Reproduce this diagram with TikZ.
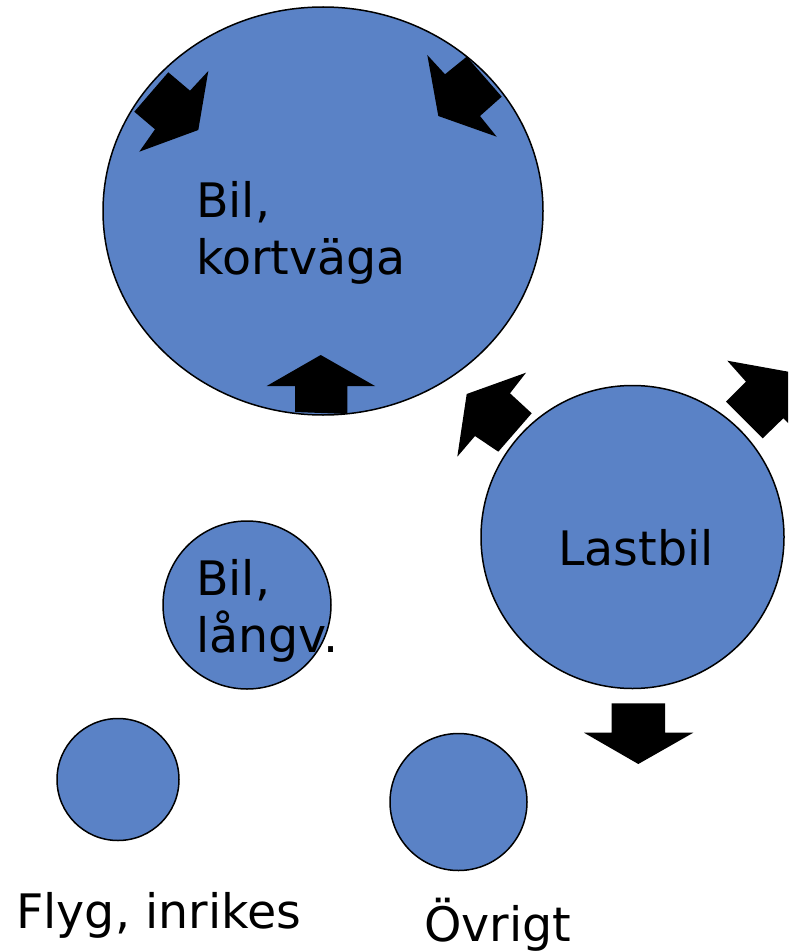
\documentclass[tikz,border=0pt]{standalone}
\usepackage{fontspec}
\setmainfont{DejaVu Sans}
\usetikzlibrary{shapes.geometric}
\definecolor{bubblefill}{RGB}{90,130,198}
\begin{document}
\begin{tikzpicture}[x=1pt,y=-1pt,
  bubble/.style={draw=black, line width=1.5pt, fill=bubblefill, inner sep=0pt},
  lbl/.style={font=\fontsize{47.5pt}{57pt}\selectfont, inner sep=0pt, align=left, anchor=base west},
  blockarrow/.style={fill=black}]
\useasboundingbox (0,0) rectangle (788,952);
\clip (0,0) rectangle (788,952);
% bubbles
\node[bubble, ellipse, minimum width=440pt, minimum height=408pt] (kort) at (323,211) {};
\node[bubble, circle, minimum size=303pt] (last) at (632.5,537) {};
\node[bubble, circle, minimum size=168pt] (langv) at (247,605) {};
\node[bubble, circle, minimum size=122pt] (flyg) at (118,779.5) {};
\node[bubble, circle, minimum size=137pt] (ovr) at (458.5,802) {};
% labels (base anchor of a two-line node is the last line's baseline)
\node[lbl] (kortlbl) at (196,274) {Bil,\\kortväga};
\node[lbl] (lastlbl) at (558,565) {Lastbil};
\node[lbl] (langvlbl) at (196,652) {Bil,\\långv.};
\node[lbl] (flyglbl) at (16,928) {Flyg, inrikes};
\node[lbl] (ovrlbl) at (424,941) {Övrigt};
% block arrows
\fill[blockarrow] (168.3,72.3) -- (190,90.7) -- (208.3,71) -- (198.3,130) -- (139.3,151.7) -- (155,129.3) -- (134.3,111.7) -- cycle;
\fill[blockarrow] (427.3,55) -- (445,74.3) -- (466.7,56.7) -- (501.7,96.7) -- (480,116) -- (496.7,136.7) -- (438.3,116) -- cycle;
\fill[blockarrow] (320.7,355) -- (375,386) -- (347.3,386) -- (347.3,414) -- (295,412) -- (295,386) -- (266.7,386) -- cycle;
\fill[blockarrow] (526,372.7) -- (510,393.3) -- (531.7,413.3) -- (498.3,451.7) -- (475,436) -- (457.3,456.7) -- (466.7,394) -- cycle;
\fill[blockarrow] (727.3,360.7) -- (746,381.7) -- (726,401.7) -- (762.7,438.3) -- (783.3,418.3) -- (803.2,438.1) -- (792.7,372.5) -- cycle;
\fill[blockarrow] (611.7,703.3) -- (665,703.3) -- (665,732.7) -- (693.3,732.7) -- (638.3,764) -- (584,732.7) -- (611.7,732.7) -- cycle;
\end{tikzpicture}
\end{document}
